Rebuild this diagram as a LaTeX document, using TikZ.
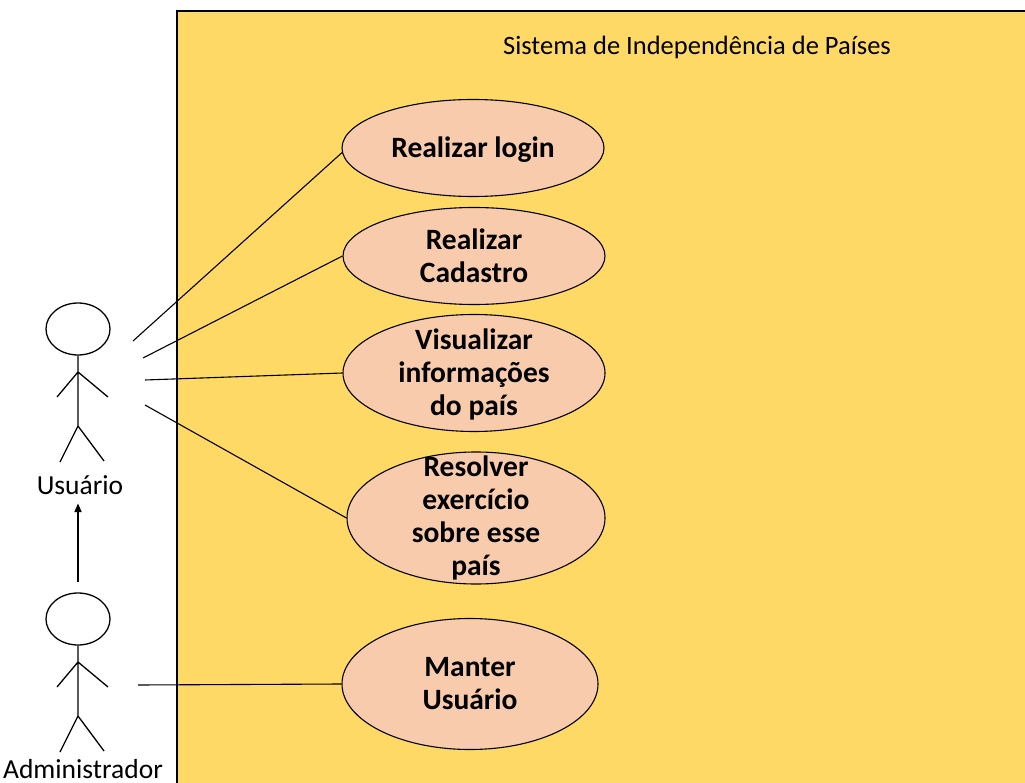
\documentclass[tikz,border=0pt]{standalone}
\usepackage{fontspec}
\setmainfont{Carlito}
\usetikzlibrary{shapes.geometric,arrows.meta}
\definecolor{sysyellow}{HTML}{FFD966}
\definecolor{ucorange}{HTML}{F8CBAD}
\newcommand{\stickman}[2]{%
  \begin{scope}[shift={#2}]
    \node[actorhead] (#1) at (0,0) {};
    \draw[actorline] (#1.south) -- (0,97) (0,43) -- (-21,68) (0,43) -- (30,68)
      (0,97) -- (-18,133) (0,97) -- (26,132);
  \end{scope}}

\begin{document}
\begin{tikzpicture}[x=1pt,y=-1pt,
  actorhead/.style={draw,ellipse,line width=1.3pt,minimum width=64pt,minimum height=52pt,inner sep=0pt},
  actorline/.style={line width=1.3pt},
  uc/.style={draw,ellipse,fill=ucorange,line width=1.1pt,inner sep=0pt},
  uctext/.style={font=\bfseries\fontsize{29.5}{33}\selectfont,align=center,inner sep=0pt},
  plain/.style={font=\fontsize{26.5}{33}\selectfont},
  assoc/.style={line width=1.1pt}]
\useasboundingbox (0,0) rectangle (1025,783);
\fill[sysyellow] (177,11) rectangle (1025,783);
\draw[line width=1.5pt] (1025,11) -- (177,11) -- (177,783);
\node[plain] (title) at (697,47) {Sistema de Independência de Países};

\node[uc,minimum width=262pt,minimum height=97pt,label={[uctext,yshift=-2pt]center:Realizar login}] (login) at (473,148) {};
\node[uc,minimum width=262pt,minimum height=97pt,label={[uctext]center:{Realizar\\Cadastro}}] (cadastro) at (474,256) {};
\node[uc,minimum width=262pt,minimum height=117pt,label={[uctext,yshift=-1pt]center:{Visualizar\\informações\\do país}}] (visualizar) at (474,373) {};
\node[uc,minimum width=258pt,minimum height=132pt,label={[uctext]center:{Resolver\\exercício\\sobre esse\\país}}] (resolver) at (476,518) {};
\node[uc,minimum width=256pt,minimum height=131pt,label={[uctext]center:{Manter\\Usuário}}] (manter) at (470,684) {};

\stickman{userhead}{(78,329)}
\stickman{adminhead}{(78,619)}
\node[plain,font=\fontsize{27.5}{33}\selectfont,anchor=base] (usuario) at (80,494) {Usuário};
\node[plain,font=\fontsize{27.5}{33}\selectfont,anchor=base] (admin) at (83,778) {Administrador};

\coordinate (u1) at (133,341);
\coordinate (u2) at (143,358);
\coordinate (u3) at (145,380);
\coordinate (u4) at (145,405);
\coordinate (a1) at (138,685);
\draw[assoc] (u1) -- (login.182);
\draw[assoc] (u2) -- (cadastro.west);
\draw[assoc] (u3) -- (visualizar.west);
\draw[assoc] (u4) -- (resolver.west);
\draw[assoc] (a1) -- (manter.west);
\draw[-{Triangle[length=9pt,width=7pt]},line width=2pt,shorten <=10pt,shorten >=5.5pt] (adminhead.north) -- (adminhead.north |- usuario.south);
\end{tikzpicture}
\end{document}
